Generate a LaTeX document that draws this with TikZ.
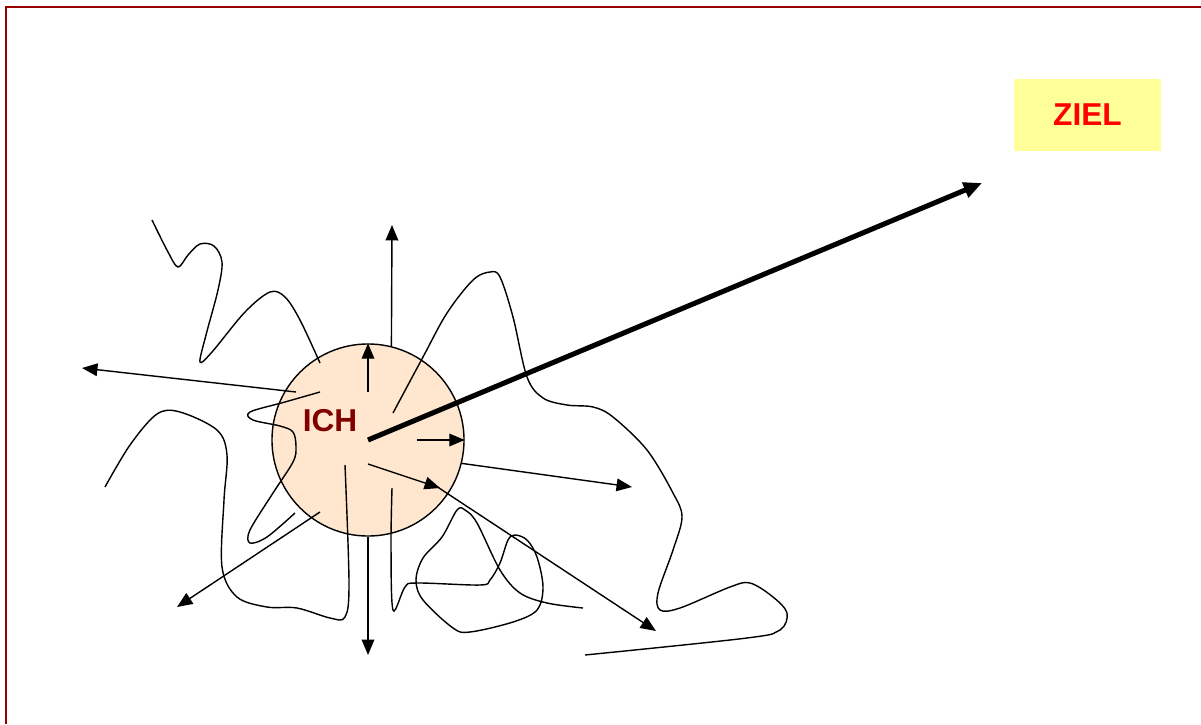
\documentclass[tikz,border=0pt]{standalone}
\usepackage{fontspec}
\setmainfont{Liberation Sans}
\usepackage{tikz}
\usetikzlibrary{arrows.meta,calc}
\usepackage{xcolor}
\definecolor{ichFill}{HTML}{FFE6CE}
\definecolor{ichText}{HTML}{800000}
\definecolor{zielFill}{HTML}{FFFF99}
\definecolor{zielText}{HTML}{FF0000}
\definecolor{frameRed}{HTML}{990000}

\begin{document}
\begin{tikzpicture}[x=0.025cm,y=-0.025cm,every node/.style={font=\fontsize{22.5}{26}\selectfont\bfseries},
  ray/.style={-{Triangle[length=11pt,width=9pt]},line width=1pt},
  wander/.style={line width=1pt,smooth,tension=0.55}]
\useasboundingbox (0,0) rectangle (1201,724);
\draw[frameRed,line width=1.6pt] (6,724) -- (6,7) -- (1201,7);
\node[circle,draw,line width=1pt,fill=ichFill,minimum size=4.8cm,inner sep=0pt] (ich) at (368,440) {};
\node[fill=zielFill,text=zielText,minimum width=3.675cm,minimum height=1.8cm] (ziel) at (1087.5,115) {ZIEL};
\node[text=ichText] (ichtext) at (330,421) {ICH};
\coordinate (nordEnd) at (392,225);
\coordinate (westEnd) at (82,368);
\coordinate (ostEnd) at (632,487);
\coordinate (suedEnd) at (368,655);
\coordinate (swEnd) at (177,607);
\coordinate (soMid) at (440,488);
\coordinate (soEnd) at (656,631);
\coordinate (zielEnd) at (982,183);
\draw[wander] plot coordinates {(152,220) (168,252) (178,267) (188,255) (200,244) (214,246) (222,262) (218,290) (206,335) (200,362) (212,352) (245,312) (270,292) (285,297) (300,320) (320,363)};
\draw[wander] plot coordinates {(320,392) (285,402) (250,412) (253,420) (280,426) (293,432) (296,447) (293,462) (273,493) (250,530) (250,543) (267,537) (295,513)};
\draw[wander] plot coordinates {(105,487) (130,445) (157,414) (180,412) (217,430) (227,455) (224,500) (222,567) (237,597) (267,607) (297,608) (330,618) (345,617) (349,583) (345,465)};
\draw[wander] plot coordinates {(392,488) (391,545) (393,610) (405,587) (417,583) (480,585) (490,580) (500,563) (508,540) (515,535) (527,540) (537,557) (543,587) (537,610) (513,622) (470,632) (453,628) (423,600) (416,580) (423,558) (442,537) (457,510) (465,510) (477,523) (500,570) (520,593) (547,603) (583,608)};
\draw[wander] plot coordinates {(393,413) (423,357) (447,313) (473,280) (490,272) (500,277) (513,317) (527,377) (543,398) (567,405) (593,407) (613,417) (647,450) (673,493) (682,517) (673,550) (658,593) (660,610) (680,608) (730,587) (750,583) (773,597) (787,613) (780,630) (747,638) (585,655)};
\draw[ray] (ich.76) -- (nordEnd);
\draw[ray] ($(ich.center)+(0,-48)$) -- (ich.north);
\draw[ray] ($(ich.center)+(-72,-48)$) -- (westEnd);
\draw[ray] ($(ich.center)+(49,0)$) -- (ich.east);
\draw[ray] (ich.-14) -- (ostEnd);
\draw[ray] ($(ich.center)+(0,24)$) -- (soMid);
\draw[ray] ($(soMid)+(-4,-2)$) -- (soEnd);
\draw[ray] (ich.south) -- (suedEnd);
\draw[ray] ($(ich.center)+(-48,72)$) -- (swEnd);
\draw[line width=3.6pt,-{Triangle[length=13pt,width=11pt]}] (ich.center) -- (zielEnd);
\end{tikzpicture}
\end{document}
